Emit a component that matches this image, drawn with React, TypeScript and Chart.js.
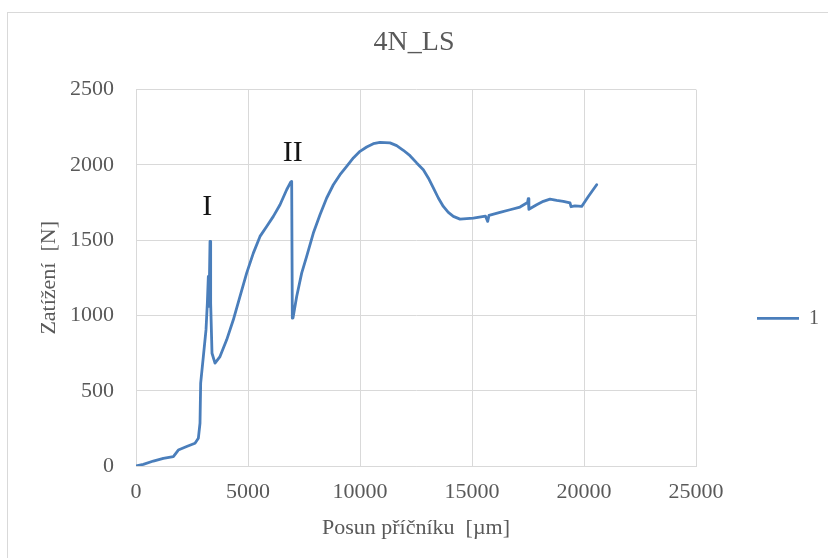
import React, { useEffect, useRef } from "react";
import { Chart, registerables } from "chart.js";

Chart.register(...registerables);

const chartTitle = "4N_LS";
const seriesLabel = "1";
const xAxisTitle = "Posun příčníku  [µm]";
const yAxisTitle = "Zatížení  [N]";

const posun: number[] = [
  0, 327, 774, 1220, 1667, 1890, 2262, 2634, 2783, 2857, 2887, 3006, 3125, 3185, 3229, 3259, 3304, 3333, 3393, 3527,
  3750, 4048, 4345, 4643, 4940, 5238, 5536, 5833, 6131, 6429, 6726, 6905, 6950, 6979, 7010, 7173, 7396, 7619, 7917,
  8214, 8512, 8810, 9107, 9405, 9702, 10000, 10298, 10595, 10893, 11339, 11637, 11934, 12232, 12530, 12827, 13050,
  13274, 13497, 13720, 13943, 14167, 14464, 15060, 15600, 15700, 15760, 16250, 16696, 17143, 17480, 17510, 17540,
  17887, 18184, 18482, 18780, 19077, 19375, 19420, 19598, 19896, 20193, 20565,
];
const zatizeni: number[] = [
  0, 11, 33, 51, 62, 106, 129, 151, 184, 284, 551, 727, 904, 1082, 1259, 1060, 1492, 1082, 749, 683,
  727, 838, 971, 1126, 1281, 1414, 1525, 1591, 1658, 1735, 1835, 1885, 1890, 982, 984, 1126, 1281, 1392, 1547,
  1669, 1780, 1868, 1935, 1990, 2046, 2090, 2119, 2141, 2150, 2146, 2128, 2097, 2061, 2013, 1968, 1913,
  1847, 1780, 1724, 1684, 1658, 1640, 1647, 1660, 1625, 1665, 1684, 1702, 1720, 1750, 1775, 1705,
  1735, 1758, 1773, 1764, 1758, 1747, 1722, 1728, 1724, 1790, 1868,
];

const annotTexts = ["I", "II"];
const annotX = [3180, 7000];
const annotY = [1720, 2080];

const xTicksMax = 25000;
const xStep = 5000;
const yTicksMax = 2500;
const yStep = 500;

const serif = "'Liberation Serif', 'Times New Roman', serif";
const gray = "#595959";

export default function App() {
  const ref = useRef<HTMLCanvasElement | null>(null);
  useEffect(() => {
    if (!ref.current) return;
    const borderPlugin = {
      id: "outerBorder",
      beforeDraw(chart: any) {
        const ctx = chart.ctx;
        ctx.save();
        ctx.fillStyle = "#ffffff";
        ctx.fillRect(0, 0, chart.width, chart.height);
        ctx.strokeStyle = "#d9d9d9";
        ctx.lineWidth = 1;
        ctx.strokeRect(7.5, 12.5, chart.width + 10, chart.height + 10);
        ctx.restore();
      },
    };
    const annotPlugin = {
      id: "romanLabels",
      afterDatasetsDraw(chart: any) {
        const ctx = chart.ctx;
        const xs = chart.scales.x;
        const ys = chart.scales.y;
        ctx.save();
        ctx.font = `30px ${serif}`;
        ctx.fillStyle = "#141414";
        ctx.textAlign = "center";
        ctx.textBaseline = "middle";
        annotTexts.forEach((t, i) => {
          ctx.fillText(t, xs.getPixelForValue(annotX[i]), ys.getPixelForValue(annotY[i]));
        });
        ctx.restore();
      },
    };
    const chart = new Chart(ref.current, {
      type: "scatter",
      data: {
        datasets: [
          {
            label: seriesLabel,
            data: posun.map((x, i) => ({ x, y: zatizeni[i] })),
            showLine: true,
            borderColor: "#4a7ebb",
            backgroundColor: "#4a7ebb",
            borderWidth: 2.8,
            borderJoinStyle: "round",
            borderCapStyle: "round",
            pointRadius: 0,
            pointStyle: "line",
            tension: 0,
          },
        ],
      },
      options: {
        animation: false,
        responsive: false,
        devicePixelRatio: 1,
        layout: { padding: { top: 12, left: 0, right: 0, bottom: 0 } },
        plugins: {
          title: {
            display: true,
            text: chartTitle,
            color: gray,
            font: { family: serif, size: 28, weight: "normal" },
            padding: { top: 14, bottom: 30 },
          },
          legend: {
            display: true,
            position: "right",
            maxWidth: 132,
            title: { display: true, text: " ", padding: { top: 25, bottom: 25 }, font: { size: 14 } },
            labels: {
              usePointStyle: true,
              pointStyleWidth: 42,
              padding: 61,
              color: gray,
              font: { family: serif, size: 20 },
            },
          },
          tooltip: { enabled: false },
        },
        scales: {
          x: {
            type: "linear",
            min: 0,
            max: xTicksMax,
            afterFit(scale: any) {
              scale.height = 92;
            },
            ticks: {
              stepSize: xStep,
              color: gray,
              padding: 13,
              font: { family: serif, size: 22 },
              callback: (v: any) => String(v),
            },
            grid: { color: "#d9d9d9", drawTicks: false },
            border: { color: "#d9d9d9" },
            title: {
              display: true,
              text: xAxisTitle,
              color: gray,
              font: { family: serif, size: 22 },
              padding: { top: 0, bottom: 17 },
            },
          },
          y: {
            type: "linear",
            min: 0,
            max: yTicksMax,
            afterFit(scale: any) {
              scale.width = 136;
            },
            ticks: {
              stepSize: yStep,
              color: gray,
              padding: 22,
              font: { family: serif, size: 22 },
              callback: (v: any) => String(v),
            },
            grid: { color: "#d9d9d9", drawTicks: false },
            border: { color: "#d9d9d9" },
            title: {
              display: true,
              text: yAxisTitle,
              color: gray,
              font: { family: serif, size: 22 },
              padding: { top: 36 },
            },
          },
        },
      },
      plugins: [borderPlugin, annotPlugin],
    });
    return () => chart.destroy();
  }, []);
  return (
    <div style={{ position: "absolute", left: 0, top: 0, width: 828, height: 558 }}>
      <canvas ref={ref} width={828} height={558} style={{ width: 828, height: 558 }} />
    </div>
  );
}
